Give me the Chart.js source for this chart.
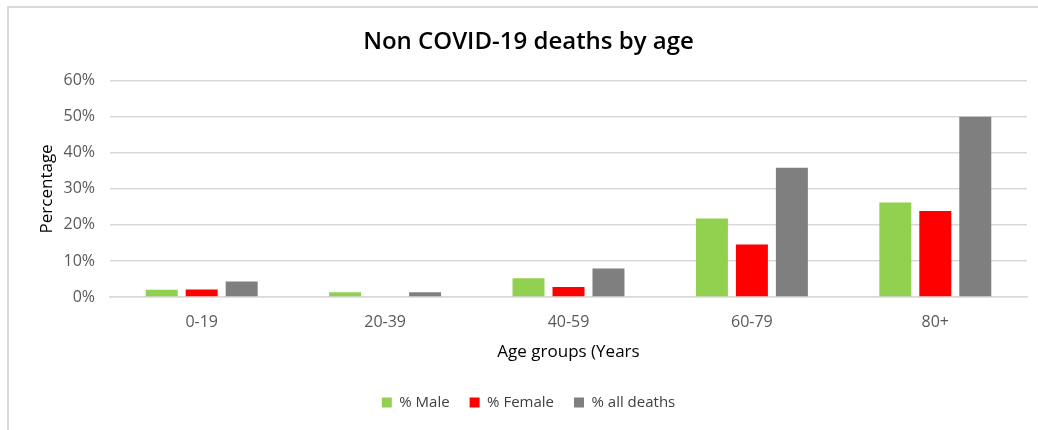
<!DOCTYPE html>
<html>
<head>
<meta charset="utf-8">
<script src="https://cdn.jsdelivr.net/npm/chart.js@4.4.1/dist/chart.umd.min.js"></script>
<style>
  html, body { margin: 0; padding: 0; background: #fff; }
  #frame {
    position: absolute; left: 7px; top: 6px; width: 1100px; height: 500px;
    border-top: 2px solid #d9d9d9; border-left: 2px solid #d9d9d9;
  }
  #wrap { position: absolute; left: 0; top: 0; width: 1038px; height: 430px; }
</style>
</head>
<body>
<div id="frame"></div>
<div id="wrap"><canvas id="chart" width="1038" height="430"></canvas></div>
<script>
// Age groups and the share of non-COVID-19 deaths in each (percent)
const ageGroups = ['0-19', '20-39', '40-59', '60-79', '80+'];
const malePct = [2.0, 1.3, 5.2, 21.8, 26.2];
const femalePct = [2.1, 0.0, 2.8, 14.6, 23.9];
const allDeathsPct = [4.3, 1.3, 7.9, 35.9, 50.0];
const yTicks = [0, 10, 20, 30, 40, 50, 60];

const FONT = '"Open Sans", Lato, sans-serif';
const gridColor = '#d9d9d9';
const tickColor = '#595959';

new Chart(document.getElementById('chart'), {
  type: 'bar',
  data: {
    labels: ageGroups,
    datasets: [
      { label: '% Male', data: malePct, backgroundColor: '#92d050' },
      { label: '% Female', data: femalePct, backgroundColor: '#ff0000' },
      { label: '% all deaths', data: allDeathsPct, backgroundColor: '#7f7f7f' }
    ]
  },
  options: {
    responsive: false,
    animation: false,
    events: [],
    categoryPercentage: 0.654,
    barPercentage: 0.8,
    layout: { padding: { left: 30, right: 11, top: 0, bottom: 10 } },
    plugins: {
      title: {
        display: true,
        text: 'Non COVID-19 deaths by age',
        color: '#000',
        font: { family: FONT, size: 24, weight: '600' },
        padding: { top: 28, bottom: 24 }
      },
      legend: {
        position: 'bottom',
        labels: {
          boxWidth: 10,
          boxHeight: 10,
          padding: 20,
          color: '#404040',
          font: { family: FONT, size: 15 }
        }
      },
      tooltip: { enabled: false }
    },
    scales: {
      x: {
        grid: { display: false, drawTicks: false },
        border: { display: true, color: gridColor, width: 1.5 },
        ticks: { color: tickColor, padding: 16, font: { family: FONT, size: 16 } },
        title: {
          display: true,
          text: 'Age groups (Years',
          color: '#000',
          font: { family: FONT, size: 17 },
          padding: { top: 0, bottom: 13 }
        },
        afterFit: (scale) => { scale.height = 78; }
      },
      y: {
        min: 0,
        max: 60,
        afterBuildTicks: (scale) => { scale.ticks = yTicks.map(v => ({ value: v })); },
        grid: { color: gridColor, lineWidth: 1.5, drawTicks: false },
        border: { display: false },
        ticks: {
          color: tickColor,
          padding: 15,
          font: { family: FONT, size: 16 },
          callback: (v) => v + '%'
        },
        title: {
          display: true,
          text: 'Percentage',
          color: '#000',
          font: { family: FONT, size: 17 },
          padding: { top: 7, bottom: 0 }
        },
        afterFit: (scale) => { scale.width = 80; }
      }
    }
  }
});
</script>
</body>
</html>
